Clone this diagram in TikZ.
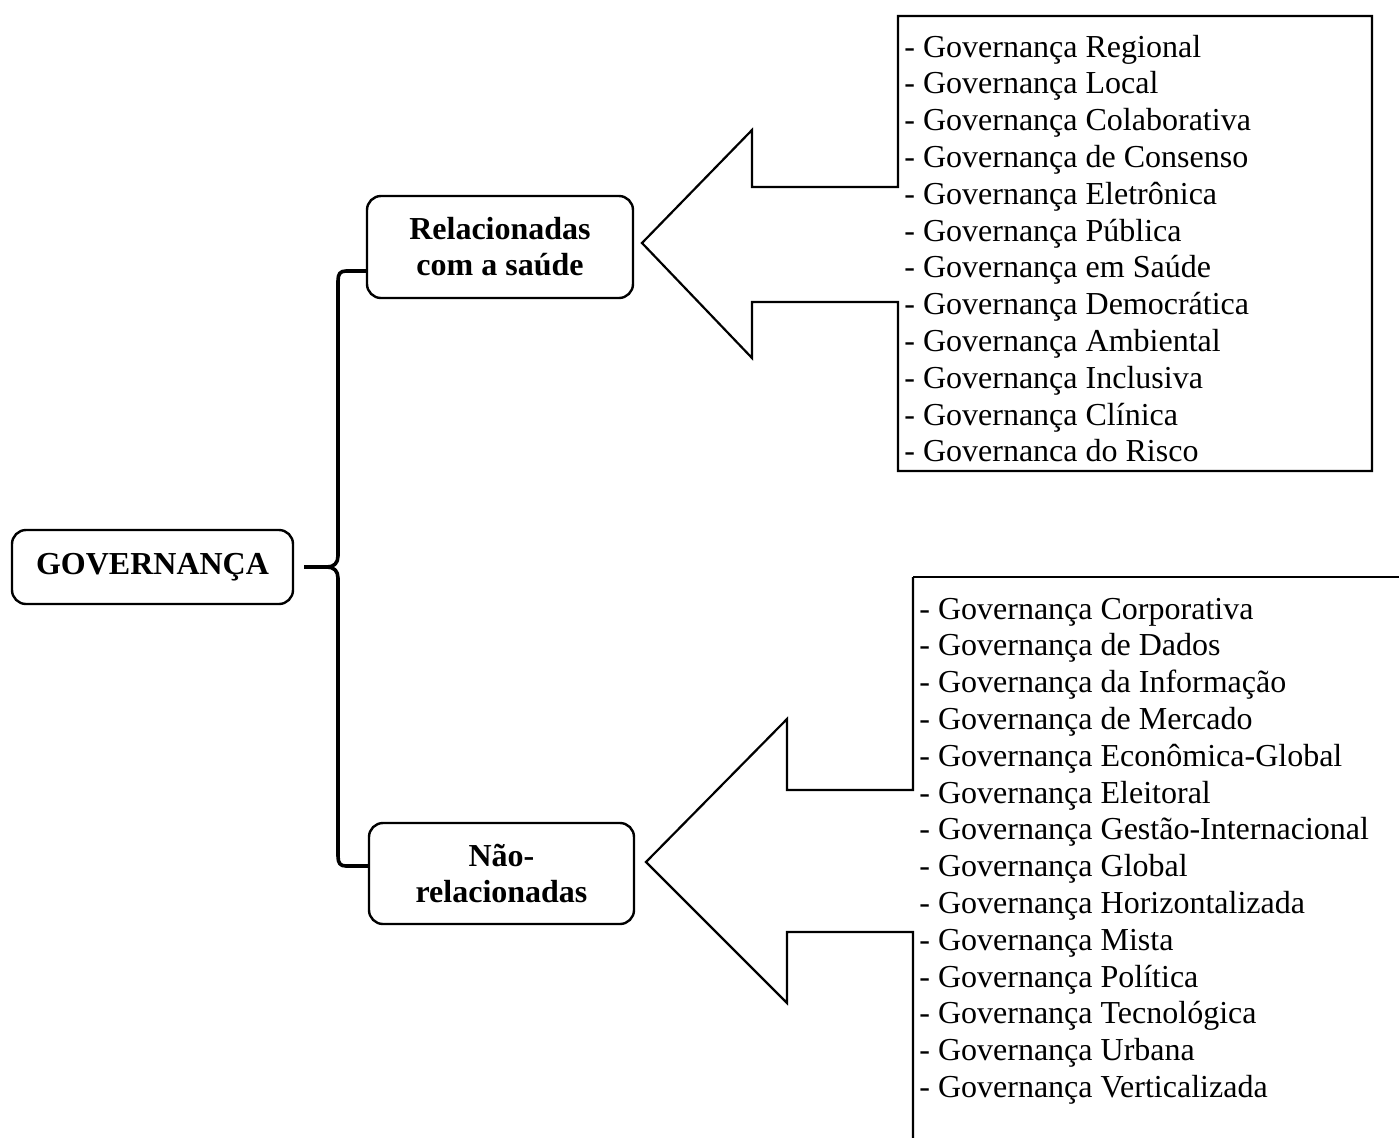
\documentclass[tikz,border=0pt]{standalone}
\usepackage{fontspec}
\setmainfont{Liberation Serif}
\begin{document}
\begin{tikzpicture}[x=0.5pt,y=-0.5pt,
  box/.style={draw, line width=1.2pt, rounded corners=7pt, align=center,
    font=\fontsize{16}{18}\selectfont\bfseries, inner sep=0pt},
  item/.style={anchor=base west, inner sep=0pt, font=\fontsize{16}{18.3}\selectfont},
  callout/.style={draw, line width=1.1pt, line join=miter},
  brace/.style={draw, line width=1.8pt, line join=round}]
\useasboundingbox (0,0) rectangle (1399,1137);

% main boxes
\node[box, minimum width=140.5pt, minimum height=37pt] (gov) at (152.5,567) {GOVERNANÇA};
\node[box, minimum width=133pt, minimum height=51pt] (rel) at (500,247) {Relacionadas\\com a saúde};
\node[box, minimum width=132.5pt, minimum height=50.5pt] (nao) at (501.5,873.5) {Não-\\relacionadas};

% brace
\coordinate (tip) at (304,567);
\coordinate (relhook) at (rel.west |- 0,271);
\coordinate (naohook) at (nao.west |- 0,866);
\draw[brace] (relhook) -- (346,271) .. controls (340,271) and (338,274) .. (338,281)
  -- (338,556) .. controls (338,563) and (334,567) .. (327,567) -- (tip);
\draw[brace] (tip) -- (327,567) .. controls (334,567) and (338,571) .. (338,578)
  -- (338,856) .. controls (338,863) and (340,866) .. (346,866) -- (naohook);

% top callout
\draw[callout] (898,187) -- (752,187) -- (752,130) -- (642,243) -- (752,358) -- (752,302)
  -- (898,302) -- (898,471) -- (1372,471) -- (1372,16) -- (898,16) -- cycle;

% bottom callout
\draw[callout] (913,577) -- (913,790) -- (787,790) -- (787,719) -- (646,862) -- (787,1003)
  -- (787,932) -- (913,932) -- (913,1140);
\draw[callout] (913,577) -- (1402,577);

% top list
\foreach \t [count=\i from 0] in {%
  - Governança Regional,
  - Governança Local,
  - Governança Colaborativa,
  - Governança de Consenso,
  - Governança Eletrônica,
  - Governança Pública,
  - Governança em Saúde,
  - Governança Democrática,
  - Governança Ambiental,
  - Governança Inclusiva,
  - Governança Clínica,
  - Governanca do Risco}
  \node[item] (a\i) at (904,{57+36.8*\i}) {\t};

% bottom list
\foreach \t [count=\i from 0] in {%
  - Governança Corporativa,
  - Governança de Dados,
  - Governança da Informação,
  - Governança de Mercado,
  - Governança Econômica-Global,
  - Governança Eleitoral,
  - Governança Gestão-Internacional,
  - Governança Global,
  - Governança Horizontalizada,
  - Governança Mista,
  - Governança Política,
  - Governança Tecnológica,
  - Governança Urbana,
  - Governança Verticalizada}
  \node[item] (b\i) at (919,{619+36.8*\i}) {\t};
\end{tikzpicture}
\end{document}
